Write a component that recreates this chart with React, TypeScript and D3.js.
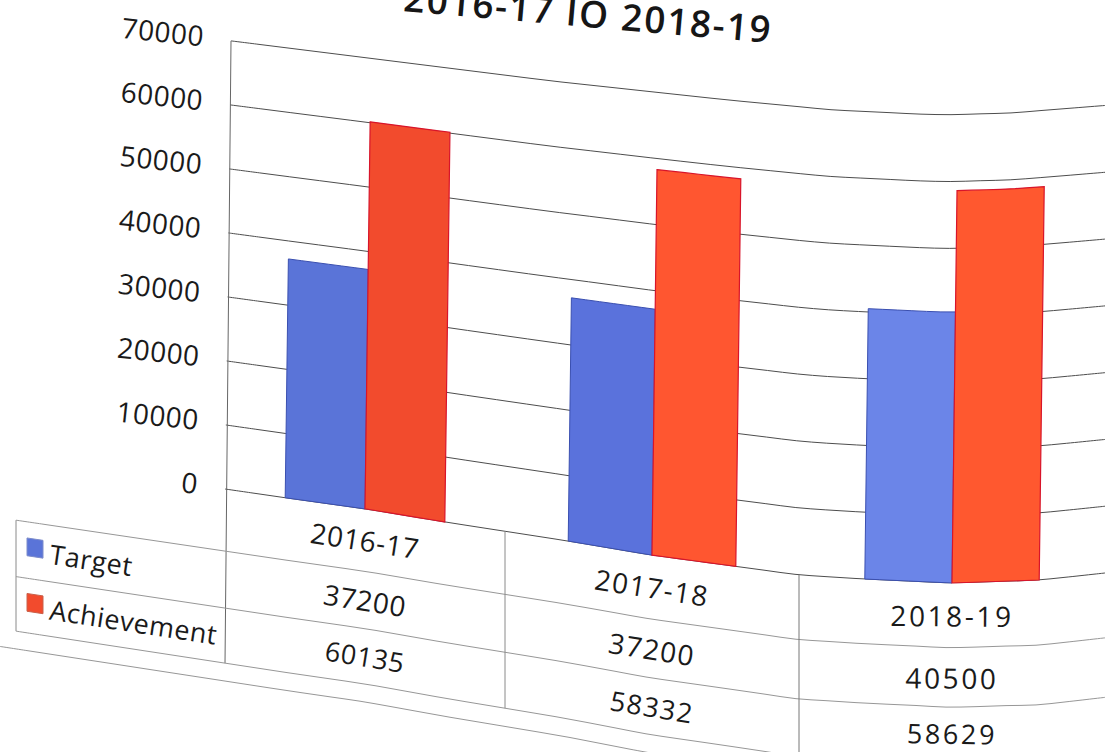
import React from "react";
import * as d3 from "d3";

// ---- data ----
const categories = ["2016-17", "2017-18", "2018-19"];
const seriesNames = ["Target", "Achievement"];
const targetValues = [37200, 37200, 40500];
const achievementValues = [60135, 58332, 58629];
const yTicks = [0, 10000, 20000, 30000, 40000, 50000, 60000, 70000];
const blueFills = ["#5a74d8", "#5a72dc", "#6b85e8"];
const redFills = ["#f24b2d", "#ff5630", "#ff582f"];

// ---- the page's paper warp (photographed, curved sheet) ----
const W = 1105;
const H = 752;
const bottomX = [225, 287, 366, 445, 568, 651, 733, 800, 864, 952, 1040, 1105];
const bottomY = [489, 498, 509, 522, 541, 555, 566, 575, 579, 583, 580, 573];
const topX = [226, 546, 722, 828, 933, 1004, 1105];
const topY = [41, 81, 100, 110, 115, 113, 105];
const columnX = [225, 505, 799, 1105];
const columnSpacing = [0.6, 1.4, 2.6];

const bottomAt = d3.scaleLinear().domain(bottomX).range(bottomY);
const topAt = d3.scaleLinear().domain(topX).range(topY);
const uToX = d3.scaleLinear().domain([0, 1, 2, 3]).range(columnX);
const unit = d3.scaleLinear().domain([0, 70000]).range([1, 0]);
const TILT = 6;

function warp(X: number, v: number): [number, number] {
  const b = bottomAt(X);
  const t = topAt(X);
  return [X + (TILT * Math.max(v, 0)) / 70000, b + (t - b) * (1 - unit(v))];
}
function slopeDeg(X: number, v: number) {
  const a = warp(X - 25, v);
  const c = warp(X + 25, v);
  return (Math.atan2(c[1] - a[1], c[0] - a[0]) * 180) / Math.PI;
}

const smooth = d3.line().curve(d3.curveCatmullRom.alpha(0.5));
function hLine(v: number, x0: number, x1: number) {
  const pts = d3.range(x0, x1, 30).concat(x1).map((X) => warp(X, v));
  return smooth(pts as [number, number][]) as string;
}
function vLine(X: number, v0: number, v1: number) {
  return d3.line()([warp(X, v0), warp(X, v1)]) as string;
}

const catBand = d3.scaleBand().domain(categories).range([0, 3]).paddingInner(0.43).paddingOuter(0.215);
const serBand = d3.scaleBand().domain(seriesNames).range([0, catBand.bandwidth()]);
const colCenter = d3.scaleBand().domain(categories).range([0, 3]);

function barPath(u0: number, u1: number, value: number) {
  const steps = d3.range(0, 7).map((i) => u0 + ((u1 - u0) * i) / 6);
  const pts = [
    ...steps.map((u) => warp(uToX(u), value)),
    ...steps.slice().reverse().map((u) => warp(uToX(u), 0)),
  ];
  return (d3.line()(pts as [number, number][]) as string) + "Z";
}

// table rows expressed on the same warped value axis
const ROW1 = -9700;
const ROW2 = -18600;
const ROW3 = -27200;
const ROWC = [(0 + ROW1) / 2, (ROW1 + ROW2) / 2, (ROW2 + ROW3) / 2];
const FONT = "'Open Sans', sans-serif";
const INK = "#1a1a1a";

function WarpText({ X, v, children, size = 28, anchor = "middle", rot, spacing = 0, dy = 0 }: any) {
  const [x, y0] = warp(X, v);
  const y = y0 + dy;
  const r = rot ?? slopeDeg(X, v);
  return (
    <text
      x={x}
      y={y}
      transform={`rotate(${r} ${x} ${y})`}
      fontFamily={FONT}
      fontSize={size}
      letterSpacing={spacing}
      fill={INK}
      textAnchor={anchor}
      dominantBaseline="central"
    >
      {children}
    </text>
  );
}

function swatch(X0: number, X1: number, vc: number) {
  const pts = [warp(X0, vc + 1400), warp(X1, vc + 1400), warp(X1, vc - 1400), warp(X0, vc - 1400)];
  return (d3.line()(pts as [number, number][]) as string) + "Z";
}

export default function App() {
  const tableRight = W;
  return (
    <svg
      width={W}
      height={H}
      viewBox={`0 0 ${W} ${H}`}
      style={{ position: "absolute", left: 0, top: 0, display: "block", background: "#fff" }}
    >
      {/* title */}
      <text
        x={587}
        y={27}
        transform="rotate(5 587 27)"
        fontFamily={FONT}
        fontWeight={600}
        fontSize={37}
        letterSpacing={1.8}
        fill="#161616"
        textAnchor="middle"
        dominantBaseline="alphabetic"
      >
        2016-17 IO 2018-19
      </text>

      {/* grid */}
      {yTicks.map((t) => (
        <path key={t} d={hLine(t, 225, tableRight)} fill="none" stroke="#4d4d4d" strokeWidth={1} />
      ))}
      <path d={vLine(225, 70000, ROW3)} stroke="#666" strokeWidth={1} fill="none" />

      {/* y tick labels */}
      {yTicks.map((t) => (
        <WarpText key={t} X={198} v={t} anchor="end" rot={6} spacing={0.5} dy={-2}>
          {String(t)}
        </WarpText>
      ))}

      {/* bars */}
      {categories.map((c, i) => {
        const u0 = catBand(c) as number;
        const uB = u0 + (serBand("Target") as number);
        const uR = u0 + (serBand("Achievement") as number);
        const w = serBand.bandwidth();
        return (
          <g key={c}>
            <path d={barPath(uB, uB + w, targetValues[i])} fill={blueFills[i]} stroke="#3a4fb0" strokeWidth={1} />
            <path d={barPath(uR, uR + w, achievementValues[i])} fill={redFills[i]} stroke="#d8142a" strokeWidth={1.2} />
          </g>
        );
      })}

      {/* data table lines */}
      {[ROW1, ROW2, ROW3].map((r) => (
        <path key={r} d={hLine(r, 16, tableRight)} fill="none" stroke="#979797" strokeWidth={1} />
      ))}
      <path d={vLine(16, ROW1, ROW3)} stroke="#8a8a8a" fill="none" />
      <path d={vLine(columnX[1], 0, ROW3)} stroke="#8a8a8a" fill="none" />
      <path d={vLine(columnX[2], 0, -32000)} stroke="#777" fill="none" />
      <path d={hLine(-30000, 0, 670)} fill="none" stroke="#979797" strokeWidth={1} />

      {/* table text */}
      {categories.map((c, i) => {
        const X = uToX((colCenter(c) as number) + colCenter.bandwidth() / 2);
        const s = columnSpacing[i];
        return (
          <g key={c}>
            <WarpText X={X} v={ROWC[0]} spacing={s}>{c}</WarpText>
            <WarpText X={X} v={ROWC[1]} spacing={s}>{String(targetValues[i])}</WarpText>
            <WarpText X={X} v={ROWC[2]} spacing={s} size={27} dy={i === 2 ? -3 : 0}>
              {String(achievementValues[i])}
            </WarpText>
          </g>
        );
      })}

      {/* legend */}
      {seriesNames.map((s, i) => (
        <g key={s}>
          <path
            d={swatch(27, 43, ROWC[i + 1] + 500)}
            fill={i === 0 ? blueFills[0] : redFills[0]}
            stroke={i === 0 ? "#7d8ccb" : "#c9604a"}
          />
          <WarpText X={50} v={ROWC[i + 1]} anchor="start" size={27} spacing={0.5}>
            {s}
          </WarpText>
        </g>
      ))}
    </svg>
  );
}
